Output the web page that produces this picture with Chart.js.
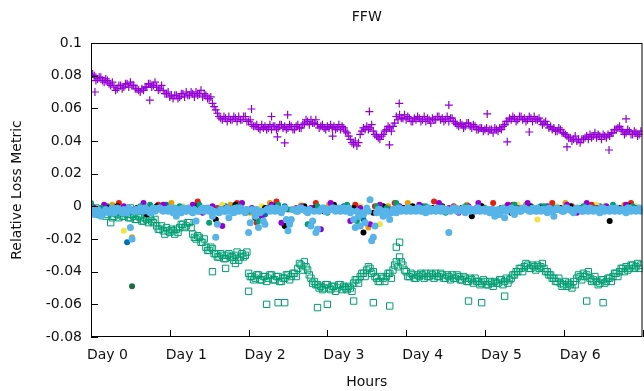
<!DOCTYPE html>
<html>
<head>
<meta charset="utf-8">
<script src="https://cdn.jsdelivr.net/npm/chart.js@4/dist/chart.umd.min.js"></script>
<style>
  html, body { margin: 0; padding: 0; background: #fff; overflow: hidden; }
  #wrap { width: 644px; height: 391px; overflow: hidden; }
</style>
</head>
<body>
<!-- canvas is 4px wider than the window: Chart.js keeps 4px of right padding we can't remove -->
<div id="wrap"><canvas id="chart" width="648" height="391"></canvas></div>
<script>
// readings on the hour (0 .. 167) and on the half hour (0.5 .. 167.5)
const purpleCross = [
  0.079, 0.080, 0.078, 0.079, 0.076, 0.077, 0.074, 0.073, 0.072, 0.074,
  0.073, 0.075, 0.076, 0.074, 0.072, 0.070, 0.071, 0.073, 0.075, 0.074,
  0.073, 0.072, 0.071, 0.069, 0.067, 0.066, 0.068, 0.067, 0.069, 0.070,
  0.068, 0.069, 0.070, 0.069, 0.067, 0.068, 0.066, 0.063, 0.059, 0.055,
  0.053, 0.054, 0.055, 0.053, 0.054, 0.055, 0.053, 0.055, 0.052, 0.050,
  0.049, 0.048, 0.050, 0.049, 0.048, 0.047, 0.049, 0.048, 0.050, 0.049,
  0.048, 0.049, 0.047, 0.050, 0.048, 0.051, 0.052, 0.053, 0.051, 0.050,
  0.049, 0.048, 0.049, 0.050, 0.049, 0.048, 0.047, 0.048, 0.045, 0.041,
  0.038, 0.037, 0.044, 0.048, 0.049, 0.048, 0.046, 0.043, 0.041, 0.044,
  0.047, 0.048, 0.049, 0.055, 0.056, 0.054, 0.053, 0.054, 0.052, 0.053,
  0.054, 0.053, 0.052, 0.053, 0.054, 0.053, 0.055, 0.054, 0.053, 0.052,
  0.054, 0.051, 0.049, 0.050, 0.049, 0.051, 0.048, 0.049, 0.047, 0.048,
  0.047, 0.046, 0.047, 0.048, 0.046, 0.047, 0.050, 0.052, 0.053, 0.054,
  0.053, 0.055, 0.054, 0.053, 0.054, 0.055, 0.053, 0.052, 0.051, 0.050,
  0.049, 0.048, 0.046, 0.047, 0.045, 0.043, 0.042, 0.041, 0.040, 0.039,
  0.041, 0.043, 0.044, 0.043, 0.042, 0.043, 0.044, 0.042, 0.043, 0.045,
  0.047, 0.049, 0.046, 0.045, 0.046, 0.044, 0.045, 0.044
];
const purpleCrossHalf = [
  0.081, 0.077, 0.079, 0.077, 0.078, 0.075, 0.076, 0.071, 0.074, 0.072,
  0.075, 0.073, 0.074, 0.072, 0.071, 0.072, 0.073, 0.075, 0.073, 0.076,
  0.071, 0.074, 0.069, 0.070, 0.068, 0.068, 0.066, 0.069, 0.067, 0.068,
  0.070, 0.067, 0.068, 0.071, 0.069, 0.066, 0.067, 0.061, 0.057, 0.054,
  0.055, 0.052, 0.053, 0.055, 0.052, 0.053, 0.055, 0.052, 0.053, 0.049,
  0.050, 0.047, 0.048, 0.047, 0.050, 0.049, 0.047, 0.050, 0.048, 0.047,
  0.050, 0.047, 0.049, 0.048, 0.050, 0.053, 0.050, 0.051, 0.053, 0.048,
  0.050, 0.047, 0.048, 0.048, 0.047, 0.050, 0.049, 0.046, 0.043, 0.039,
  0.040, 0.039, 0.046, 0.047, 0.047, 0.050, 0.044, 0.042, 0.043, 0.046,
  0.049, 0.046, 0.051, 0.053, 0.054, 0.056, 0.055, 0.052, 0.054, 0.055,
  0.052, 0.055, 0.054, 0.051, 0.053, 0.055, 0.053, 0.052, 0.055, 0.054,
  0.052, 0.050, 0.051, 0.048, 0.051, 0.049, 0.050, 0.047, 0.048, 0.046,
  0.048, 0.047, 0.045, 0.047, 0.048, 0.049, 0.052, 0.054, 0.055, 0.052,
  0.055, 0.053, 0.052, 0.055, 0.052, 0.053, 0.054, 0.050, 0.052, 0.048,
  0.047, 0.046, 0.048, 0.045, 0.044, 0.042, 0.040, 0.043, 0.041, 0.041,
  0.042, 0.041, 0.042, 0.045, 0.044, 0.041, 0.043, 0.044, 0.045, 0.047,
  0.048, 0.047, 0.044, 0.047, 0.044, 0.046, 0.043, 0.046
];
const purpleOutHours = [1.2, 17.9, 48.9, 55, 56.8, 59.9, 59, 73.6, 84.8, 90.9, 93.9, 109, 120.7, 126.8, 133.5, 145, 157.8, 163];
const purpleOutVals = [0.070, 0.065, 0.0596, 0.055, 0.0425, 0.056, 0.0388, 0.043, 0.058, 0.0376, 0.063, 0.062, 0.0566, 0.0395, 0.0455, 0.0364, 0.0345, 0.0535];

const greenSquare = [
  -0.001, -0.003, -0.002, -0.004, -0.003, -0.005, -0.004, -0.006, -0.005, -0.004,
  -0.006, -0.005, -0.007, -0.006, -0.008, -0.007, -0.009, -0.008, -0.007, -0.010,
  -0.012, -0.014, -0.015, -0.013, -0.016, -0.015, -0.014, -0.013, -0.011, -0.012,
  -0.010, -0.017, -0.020, -0.019, -0.022, -0.025, -0.027, -0.026, -0.029, -0.031,
  -0.030, -0.032, -0.029, -0.031, -0.030, -0.033, -0.029, -0.030, -0.041, -0.043,
  -0.044, -0.042, -0.045, -0.043, -0.044, -0.042, -0.045, -0.043, -0.046, -0.044,
  -0.042, -0.043, -0.041, -0.038, -0.036, -0.034, -0.039, -0.044, -0.046, -0.048,
  -0.049, -0.050, -0.048, -0.051, -0.049, -0.050, -0.048, -0.049, -0.051, -0.050,
  -0.047, -0.045, -0.043, -0.041, -0.039, -0.038, -0.040, -0.044, -0.046, -0.044,
  -0.043, -0.041, -0.039, -0.034, -0.031, -0.036, -0.040, -0.043, -0.042, -0.044,
  -0.043, -0.042, -0.041, -0.043, -0.042, -0.041, -0.043, -0.042, -0.044, -0.043,
  -0.042, -0.044, -0.043, -0.045, -0.044, -0.046, -0.045, -0.044, -0.046, -0.047,
  -0.046, -0.048, -0.047, -0.046, -0.047, -0.045, -0.046, -0.047, -0.044, -0.042,
  -0.040, -0.038, -0.037, -0.036, -0.038, -0.037, -0.036, -0.037, -0.038, -0.040,
  -0.042, -0.044, -0.046, -0.047, -0.048, -0.049, -0.048, -0.046, -0.044, -0.043,
  -0.041, -0.042, -0.044, -0.045, -0.046, -0.047, -0.045, -0.046, -0.044, -0.043,
  -0.041, -0.040, -0.038, -0.037, -0.038, -0.036, -0.037, -0.038
];
const greenSquareHalf = [
  -0.003, -0.001, -0.005, -0.002, -0.006, -0.003, -0.007, -0.004, -0.007, -0.006,
  -0.004, -0.007, -0.005, -0.008, -0.006, -0.009, -0.007, -0.010, -0.009, -0.008,
  -0.014, -0.012, -0.017, -0.015, -0.014, -0.017, -0.016, -0.011, -0.013, -0.010,
  -0.013, -0.019, -0.018, -0.022, -0.020, -0.027, -0.025, -0.029, -0.031, -0.029,
  -0.032, -0.030, -0.031, -0.033, -0.028, -0.031, -0.031, -0.028, -0.043, -0.045,
  -0.042, -0.045, -0.043, -0.046, -0.042, -0.045, -0.043, -0.046, -0.044, -0.042,
  -0.045, -0.041, -0.043, -0.035, -0.039, -0.037, -0.042, -0.047, -0.048, -0.050,
  -0.051, -0.048, -0.050, -0.049, -0.052, -0.048, -0.051, -0.050, -0.049, -0.052,
  -0.045, -0.047, -0.041, -0.043, -0.037, -0.041, -0.043, -0.046, -0.043, -0.046,
  -0.041, -0.044, -0.036, -0.037, -0.034, -0.039, -0.043, -0.041, -0.044, -0.042,
  -0.041, -0.044, -0.043, -0.041, -0.044, -0.043, -0.041, -0.044, -0.042, -0.045,
  -0.044, -0.042, -0.045, -0.043, -0.046, -0.044, -0.047, -0.046, -0.048, -0.045,
  -0.048, -0.046, -0.049, -0.047, -0.045, -0.048, -0.044, -0.045, -0.042, -0.040,
  -0.038, -0.040, -0.035, -0.038, -0.036, -0.039, -0.038, -0.035, -0.040, -0.042,
  -0.044, -0.046, -0.044, -0.049, -0.046, -0.047, -0.050, -0.048, -0.042, -0.045,
  -0.043, -0.040, -0.046, -0.043, -0.048, -0.045, -0.047, -0.044, -0.046, -0.041,
  -0.043, -0.038, -0.040, -0.039, -0.036, -0.038, -0.035, -0.036
];
const greenOutHours = [6, 12, 37, 41, 44, 48, 53.5, 57, 59, 69, 72, 80, 86, 91, 93, 94, 115, 119, 126, 151, 156];
const greenOutVals = [-0.010, -0.001, -0.040, -0.038, -0.035, -0.052, -0.060, -0.059, -0.059, -0.062, -0.060, -0.058, -0.059, -0.061, -0.025, -0.022, -0.058, -0.059, -0.055, -0.058, -0.059];

// dot series near zero
const skyBlueDot = [
  -0.003, -0.005, -0.002, -0.006, -0.004, -0.003, -0.002, -0.004, -0.001, -0.003,
  -0.002, -0.004, -0.013, -0.003, -0.002, -0.001, -0.003, -0.002, -0.004, -0.001,
  -0.002, -0.001, -0.003, -0.002, -0.001, -0.004, -0.006, -0.002, -0.001, -0.003,
  -0.002, -0.004, -0.009, -0.003, -0.001, -0.002, -0.003, -0.006, -0.019, -0.004,
  -0.002, -0.003, -0.007, -0.002, -0.001, -0.003, -0.002, -0.004, -0.016, -0.002,
  -0.006, -0.013, -0.003, -0.011, -0.002, -0.001, -0.003, -0.002, -0.004, -0.001,
  -0.015, -0.008, -0.002, -0.003, -0.001, -0.002, -0.004, -0.012, -0.003, -0.014,
  -0.002, -0.001, -0.003, -0.002, -0.001, -0.002, -0.003, -0.001, -0.002, -0.004,
  -0.008, -0.003, -0.012, -0.005, -0.001, 0.004, -0.019, -0.004, -0.002, -0.006,
  -0.003, -0.008, -0.002, -0.004, -0.001, -0.002, -0.003, -0.001, -0.002, -0.003,
  -0.001, -0.002, -0.004, -0.001, -0.002, -0.003, -0.002, -0.001, -0.003, -0.016,
  -0.002, -0.001, -0.003, -0.002, -0.004, -0.001, -0.002, -0.003, -0.001, -0.002,
  -0.003, -0.002, -0.004, -0.006, -0.002, -0.003, -0.007, -0.002, -0.001, -0.005,
  -0.002, -0.003, -0.001, -0.002, -0.003, -0.002, -0.001, -0.003, -0.002, -0.004,
  -0.002, -0.006, -0.001, -0.002, -0.003, -0.001, -0.002, -0.004, -0.001, -0.002,
  -0.003, -0.002, -0.001, -0.003, -0.002, -0.004, -0.001, -0.002, -0.003, -0.002,
  -0.001, -0.003, -0.002, -0.004, -0.001, -0.002, -0.003, -0.001
];
const skyBlueDotHalf = [
  -0.002, -0.004, -0.003, -0.005, -0.002, -0.004, -0.001, -0.003, -0.002, -0.004,
  -0.003, -0.001, -0.020, -0.002, -0.003, -0.002, -0.001, -0.003, -0.002, -0.003,
  -0.001, -0.002, -0.002, -0.003, -0.002, -0.001, -0.003, -0.004, -0.002, -0.001,
  -0.003, -0.002, -0.003, -0.002, -0.003, -0.001, -0.002, -0.003, -0.011, -0.002,
  -0.003, -0.001, -0.003, -0.004, -0.002, -0.001, -0.003, -0.002, -0.010, -0.003,
  -0.002, -0.004, -0.009, -0.002, -0.003, -0.002, -0.001, -0.003, -0.002, -0.008,
  -0.011, -0.002, -0.003, -0.001, -0.002, -0.003, -0.002, -0.009, -0.016, -0.003,
  -0.001, -0.003, -0.002, -0.001, -0.003, -0.001, -0.002, -0.003, -0.001, -0.003,
  -0.013, -0.006, -0.004, -0.010, -0.003, -0.021, -0.012, -0.002, -0.004, -0.003,
  -0.005, -0.004, -0.003, -0.001, -0.003, -0.002, -0.001, -0.003, -0.002, -0.001,
  -0.003, -0.002, -0.001, -0.003, -0.002, -0.001, -0.003, -0.002, -0.002, -0.003,
  -0.001, -0.003, -0.002, -0.001, -0.002, -0.003, -0.002, -0.001, -0.003, -0.002,
  -0.002, -0.004, -0.002, -0.003, -0.005, -0.001, -0.003, -0.002, -0.004, -0.002,
  -0.003, -0.001, -0.002, -0.003, -0.001, -0.003, -0.002, -0.002, -0.003, -0.001,
  -0.003, -0.002, -0.002, -0.003, -0.001, -0.002, -0.003, -0.002, -0.002, -0.003,
  -0.001, -0.003, -0.002, -0.002, -0.003, -0.001, -0.003, -0.002, -0.001, -0.003,
  -0.002, -0.002, -0.003, -0.001, -0.003, -0.002, -0.002, -0.003
];
// every 3 hours
const greenDot = [
  0.002, -0.001, -0.004, -0.002, -0.003, 0.000, 0.001, -0.002, -0.001, 0.000,
  -0.002, 0.001, -0.010, -0.002, -0.001, 0.000, -0.003, -0.009, -0.001, 0.001,
  -0.002, -0.003, -0.011, 0.000, -0.004, -0.002, 0.001, -0.009, -0.002, 0.000,
  -0.001, 0.002, -0.002, -0.001, 0.000, -0.003, -0.004, -0.001, 0.000, -0.002,
  -0.001, -0.005, -0.002, 0.001, -0.001, -0.002, 0.000, -0.001, -0.003, -0.002,
  0.000, -0.001, -0.002, 0.001, -0.002, 0.000
];
const purpleDot = [
  -0.001, 0.001, -0.003, 0.000, -0.002, 0.002, -0.001, 0.001, -0.003, -0.002,
  0.001, -0.004, 0.000, -0.012, -0.002, 0.002, -0.001, -0.006, 0.001, -0.010,
  -0.002, 0.000, -0.001, -0.014, 0.002, -0.003, -0.009, -0.001, -0.011, 0.001,
  -0.002, 0.000, -0.003, 0.001, -0.002, 0.002, -0.001, -0.004, 0.000, 0.002,
  -0.002, -0.005, 0.001, -0.001, 0.002, -0.003, 0.000, -0.002, 0.001, -0.004,
  0.002, -0.001, 0.000, -0.002, 0.001, -0.001
];
const blackDot = [
  -0.004, -0.001, 0.000, -0.002, -0.001, -0.005, 0.000, -0.002, -0.001, -0.003,
  0.000, -0.002, -0.008, -0.001, 0.001, -0.003, -0.007, -0.001, 0.000, -0.012,
  -0.002, 0.000, -0.001, -0.003, 0.001, -0.002, -0.001, -0.016, -0.004, 0.000,
  -0.002, -0.001, 0.000, -0.003, -0.001, 0.000, -0.002, -0.001, -0.006, 0.000,
  -0.002, -0.001, -0.004, -0.002, 0.000, -0.001, -0.003, -0.001, 0.000, -0.002,
  -0.001, -0.003, -0.009, -0.001, 0.000, -0.002
];
// every 6 hours
const orangeDot = [
  -0.002, 0.001, -0.019, -0.001, 0.002, -0.003, -0.001, 0.001, -0.004, 0.002,
  -0.010, -0.002, 0.001, -0.003, -0.013, 0.000, 0.002, -0.001, -0.002, 0.001,
  -0.003, 0.000, 0.001, -0.002, 0.002, -0.001, 0.000, 0.001
];
const redDot = [
  -0.005, 0.002, -0.001, 0.001, -0.002, 0.003, -0.001, 0.002, -0.010, 0.003,
  -0.001, 0.002, -0.002, 0.001, 0.000, 0.002, -0.001, 0.003, 0.000, -0.003,
  0.002, 0.001, -0.001, 0.002, 0.000, 0.001, -0.002, 0.002
];
const yellowDot = [
  -0.001, -0.015, 0.001, -0.002, 0.000, -0.003, 0.001, -0.001, 0.000, -0.004,
  0.001, -0.002, -0.001, 0.000, -0.011, 0.000, -0.002, 0.001, -0.001, 0.000,
  -0.002, 0.001, -0.008, 0.000, -0.001, 0.001, -0.002, 0.000
];
const darkBlueDot = [
  0.000, -0.022, -0.002, 0.001, -0.003, -0.001, 0.000, -0.002, -0.005, 0.000,
  -0.001, -0.003, 0.000, -0.008, -0.002, -0.001, 0.000, -0.003, -0.001, 0.000,
  -0.002, -0.001, 0.000, -0.002, -0.001, 0.000, -0.003, -0.001
];
const strayDotHours = [12.5];
const strayDotVals = [-0.049];

const dayLabels = ['Day 0', 'Day 1', 'Day 2', 'Day 3', 'Day 4', 'Day 5', 'Day 6'];
const chartTitle = 'FFW';

const spaced = (vals, step, start) => vals.map((v, i) => ({ x: start + i * step, y: v }));
const pairs = (hs, vs) => hs.map((h, i) => ({ x: h, y: vs[i] }));

const dot = (data, color, order, r) => ({
  data, order,
  pointStyle: 'circle', pointRadius: r || 3, borderWidth: 0,
  backgroundColor: color, borderColor: color
});

// title centred over the plot, inward tics + full border box (gnuplot style)
const frame = {
  id: 'frame',
  afterDraw(chart) {
    const { ctx, chartArea: a, scales: { x, y } } = chart;
    ctx.save();
    ctx.fillStyle = '#111';
    ctx.font = '14px "DejaVu Sans"';
    ctx.textAlign = 'center';
    ctx.textBaseline = 'middle';
    ctx.fillText(chartTitle, (a.left + a.right) / 2, 17);
    ctx.strokeStyle = '#000';
    ctx.lineWidth = 1;
    ctx.beginPath();
    y.ticks.forEach(t => {
      const py = Math.round(y.getPixelForValue(t.value)) + 0.5;
      ctx.moveTo(a.left, py); ctx.lineTo(a.left + 7, py);
    });
    x.ticks.forEach(t => {
      const px = Math.round(x.getPixelForValue(t.value)) + 0.5;
      ctx.moveTo(px, a.bottom); ctx.lineTo(px, a.bottom - 7);
    });
    ctx.stroke();
    ctx.strokeRect(a.left + 0.5, a.top + 0.5, a.right - a.left - 1, a.bottom - a.top - 1);
    ctx.restore();
  }
};

const font = { family: 'DejaVu Sans', size: 14, weight: 'normal' };

new Chart(document.getElementById('chart'), {
  type: 'scatter',
  data: {
    datasets: [
      dot(spaced(skyBlueDot, 1, 0).concat(spaced(skyBlueDotHalf, 1, 0.5)), '#56B4E9', 0, 3.5),
      dot(spaced(greenDot, 3, 0), '#009E73', 1),
      dot(spaced(purpleDot, 3, 1), '#9400D3', 2),
      dot(spaced(blackDot, 3, 2), '#000000', 3),
      dot(spaced(orangeDot, 6, 0.5), '#E69F00', 4),
      dot(spaced(redDot, 6, 2.5), '#E51E10', 5),
      dot(spaced(yellowDot, 6, 4), '#F0E442', 6),
      dot(spaced(darkBlueDot, 6, 5), '#0072B2', 7),
      dot(pairs(strayDotHours, strayDotVals), '#1E6B4A', 8),
      {
        data: spaced(greenSquare, 1, 0).concat(spaced(greenSquareHalf, 1, 0.5), pairs(greenOutHours, greenOutVals)),
        order: 9,
        pointStyle: 'rect', pointRadius: 4.5, borderWidth: 1,
        borderColor: '#009E73', backgroundColor: 'rgba(0,0,0,0)'
      },
      {
        data: spaced(purpleCross, 1, 0).concat(spaced(purpleCrossHalf, 1, 0.5), pairs(purpleOutHours, purpleOutVals)),
        order: 10,
        pointStyle: 'cross', pointRadius: 4, borderWidth: 1.2,
        borderColor: '#9400D3', backgroundColor: '#9400D3'
      }
    ]
  },
  options: {
    responsive: false,
    devicePixelRatio: 1,
    animation: false,
    layout: { padding: { left: 0, right: 1, top: 43, bottom: 0 } },
    plugins: {
      legend: { display: false },
      tooltip: { enabled: false }
    },
    scales: {
      x: {
        type: 'linear', min: 0, max: 168,
        grid: { display: false, drawTicks: false },
        border: { display: false },
        afterFit: s => { s.height = 54; s.paddingLeft = 0; s.paddingRight = 0; },
        ticks: {
          stepSize: 24, autoSkip: false, maxRotation: 0, minRotation: 0,
          align: 'start', labelOffset: -4, padding: 10,
          color: '#111', font: font,
          callback: v => dayLabels[v / 24] || ''
        },
        title: { display: true, text: 'Hours', color: '#111', font: font, padding: { top: 0, bottom: 0 } }
      },
      y: {
        min: -0.08, max: 0.1,
        grid: { display: false, drawTicks: false },
        border: { display: false },
        afterFit: s => { s.width = 91; },
        ticks: {
          stepSize: 0.02, padding: 9, color: '#111', font: font,
          callback: v => String(Number(v.toFixed(2)))
        },
        title: { display: true, text: 'Relative Loss Metric', color: '#111', font: font, padding: { top: 9, bottom: 0 } }
      }
    }
  },
  plugins: [frame]
});
</script>
</body>
</html>
